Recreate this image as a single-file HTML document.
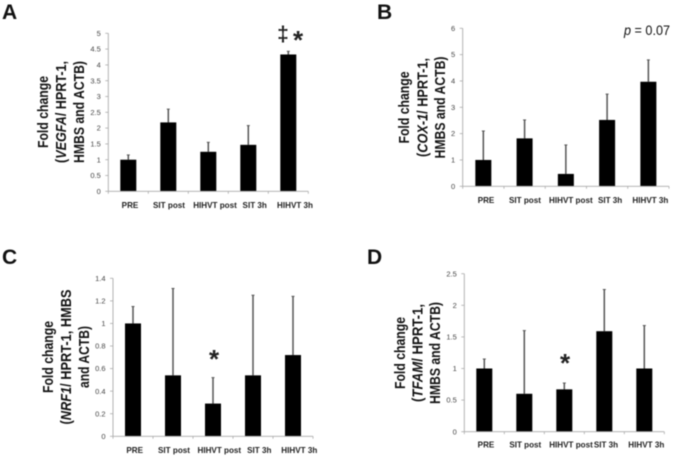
<!DOCTYPE html>
<html lang="en">
<head>
<meta charset="utf-8">
<title>Fold change panels</title>
<style>
html,body{margin:0;padding:0;background:#fff;}
body{width:673px;height:457px;overflow:hidden;}
svg{display:block;filter:blur(0.4px);font-family:"Liberation Sans",sans-serif;}
.tick{font-size:7.5px;fill:#444;text-anchor:end;}
.cat{font-size:8.1px;font-weight:bold;fill:#222;text-anchor:middle;}
.title{font-size:14.5px;font-weight:bold;fill:#111;text-anchor:middle;}
.letter{font-size:21px;font-weight:bold;fill:#111;}
.mark{font-weight:bold;fill:#222;text-anchor:middle;}
</style>
</head>
<body>
<svg id="figure" width="673" height="457" viewBox="0 0 673 457" xmlns="http://www.w3.org/2000/svg">
  <text class="letter" x="2" y="19">A</text>
  <text class="letter" x="377" y="19">B</text>
  <text class="letter" x="2" y="264">C</text>
  <text class="letter" x="367" y="264">D</text>

  <text class="title" transform="translate(48,112) rotate(-90)" textLength="72" lengthAdjust="spacingAndGlyphs">Fold change</text>
  <text class="title" transform="translate(66,112) rotate(-90)" textLength="102" lengthAdjust="spacingAndGlyphs">(<tspan font-style="italic">VEGFA</tspan>/ HPRT-1,</text>
  <text class="title" transform="translate(84,112) rotate(-90)" textLength="102" lengthAdjust="spacingAndGlyphs">HMBS and ACTB)</text>

  <text class="title" transform="translate(409,107.5) rotate(-90)" textLength="72" lengthAdjust="spacingAndGlyphs">Fold change</text>
  <text class="title" transform="translate(427.5,107.5) rotate(-90)" textLength="99" lengthAdjust="spacingAndGlyphs">(<tspan font-style="italic">COX-1</tspan>/ HPRT-1,</text>
  <text class="title" transform="translate(445,107.5) rotate(-90)" textLength="102" lengthAdjust="spacingAndGlyphs">HMBS and ACTB)</text>

  <text class="title" transform="translate(53,357) rotate(-90)" textLength="72" lengthAdjust="spacingAndGlyphs">Fold change</text>
  <text class="title" transform="translate(71,357) rotate(-90)" textLength="135" lengthAdjust="spacingAndGlyphs">(<tspan font-style="italic">NRF1</tspan>/ HPRT-1, HMBS</text>
  <text class="title" transform="translate(89,357) rotate(-90)" textLength="62" lengthAdjust="spacingAndGlyphs">and ACTB)</text>

  <text class="title" transform="translate(405,353) rotate(-90)" textLength="72" lengthAdjust="spacingAndGlyphs">Fold change</text>
  <text class="title" transform="translate(422.5,353) rotate(-90)" textLength="98" lengthAdjust="spacingAndGlyphs">(<tspan font-style="italic">TFAM</tspan>/ HPRT-1,</text>
  <text class="title" transform="translate(440,353) rotate(-90)" textLength="102" lengthAdjust="spacingAndGlyphs">HMBS and ACTB)</text>

  <text class="mark" x="283" y="41" font-size="21">‡</text>
  <text class="mark" x="298" y="49" font-size="26">*</text>
  <text class="mark" x="214" y="368" font-size="26">*</text>
  <text class="mark" x="565" y="372" font-size="26">*</text>
  <text x="670" y="35" font-size="14" fill="#111" text-anchor="end" textLength="46" lengthAdjust="spacingAndGlyphs"><tspan font-style="italic">p</tspan> = 0.07</text>
</svg>
<script>
var categories = ["PRE", "SIT post", "HIHVT post", "SIT 3h", "HIHVT 3h"];

var panelATicks = [0, 0.5, 1, 1.5, 2, 2.5, 3, 3.5, 4, 4.5, 5];
var panelAValues = [1, 2.18, 1.25, 1.47, 4.33];
var panelAErrorTops = [1.15, 2.6, 1.55, 2.08, 4.43];

var panelBTicks = [0, 1, 2, 3, 4, 5, 6];
var panelBValues = [1, 1.82, 0.47, 2.52, 3.97];
var panelBErrorTops = [2.1, 2.52, 1.57, 3.5, 4.8];

var panelCTicks = [0, 0.2, 0.4, 0.6, 0.8, 1, 1.2, 1.4];
var panelCValues = [1, 0.54, 0.29, 0.54, 0.72];
var panelCErrorTops = [1.15, 1.31, 0.52, 1.25, 1.24];

var panelDTicks = [0, 0.5, 1, 1.5, 2, 2.5];
var panelDValues = [1, 0.6, 0.67, 1.59, 1];
var panelDErrorTops = [1.15, 1.6, 0.77, 2.25, 1.68];

var NS = "http://www.w3.org/2000/svg";
var figure = document.getElementById("figure");

function make(tag, parent, props) {
  var el = document.createElementNS(NS, tag);
  for (var k in props) { el.setAttribute(k, props[k]); }
  parent.appendChild(el);
  return el;
}

function drawPanel(name, frame, ticks, values, errorTops) {
  var maxTick = ticks[ticks.length - 1];
  var step = (frame.right - frame.left) / categories.length;
  function xScale(i) { return frame.left + step * (i + 0.5); }
  function yScale(v) { return frame.bottom - (v / maxTick) * (frame.bottom - frame.top); }

  var group = make("g", figure, {});
  
  

  var i, line, label, bar, err, cap;

  ticks.forEach(function (t) {
    var tickMark = make("line", group, { x1: frame.left - 3, x2: frame.left, y1: yScale(t), y2: yScale(t), stroke: "#aaa", "stroke-width": 0.8 });
    
    
    var tickLabel = make("text", group, { "class": "tick", x: frame.left - 7.5, y: yScale(t) + 2.6 });
    
    
    tickLabel.textContent = String(t);
  });

  for (i = 0; i <= categories.length; i++) {
    line = make("line", group, { x1: frame.left + step * i, x2: frame.left + step * i, y1: frame.bottom, y2: frame.bottom + 2.5, stroke: "#aaa", "stroke-width": 0.8 });
    
    
  }

  categories.forEach(function (c, idx) {
    err = make("line", group, { x1: xScale(idx), x2: xScale(idx), y1: yScale(values[idx]), y2: yScale(errorTops[idx]), stroke: "#555", "stroke-width": 1.5 });
    
    
    cap = make("line", group, { x1: xScale(idx) - 1.5, x2: xScale(idx) + 1.5, y1: yScale(errorTops[idx]), y2: yScale(errorTops[idx]), stroke: "#555", "stroke-width": 1 });
    
    
    bar = make("rect", group, { x: xScale(idx) - 8, y: yScale(values[idx]), width: 16, height: frame.bottom - yScale(values[idx]), fill: "#000" });
    
    
    label = make("text", group, { "class": "cat", x: xScale(idx) + frame.labelShift[idx], y: frame.labelY });
    
    
    label.textContent = c;
  });

  var yAxis = make("line", group, { x1: frame.left, x2: frame.left, y1: frame.top, y2: frame.bottom, stroke: "#aaa", "stroke-width": 0.9 });
  
  
  var xAxis = make("line", group, { x1: frame.left, x2: frame.right, y1: frame.bottom, y2: frame.bottom, stroke: "#aaa", "stroke-width": 0.9 });
  
  
}

drawPanel("a", { left: 108.3, right: 308.3, top: 33.3, bottom: 191.3, labelY: 208, labelShift: [1.7, 0.7, 6.7, 6.4, 6.7] }, panelATicks, panelAValues, panelAErrorTops);
drawPanel("b", { left: 462.7, right: 669, top: 28.3, bottom: 186.3, labelY: 203, labelShift: [2.7, 0.4, 5, 3, 2] }, panelBTicks, panelBValues, panelBErrorTops);
drawPanel("c", { left: 113, right: 313, top: 278.3, bottom: 436.3, labelY: 453, labelShift: [1.7, 1, 6.3, 6.3, 6.3] }, panelCTicks, panelCValues, panelCErrorTops);
drawPanel("d", { left: 464.3, right: 664.3, top: 273.7, bottom: 431.7, labelY: 447.6, labelShift: [1.7, 1, 6.7, 1.7, 2] }, panelDTicks, panelDValues, panelDErrorTops);
</script>
</body>
</html>
